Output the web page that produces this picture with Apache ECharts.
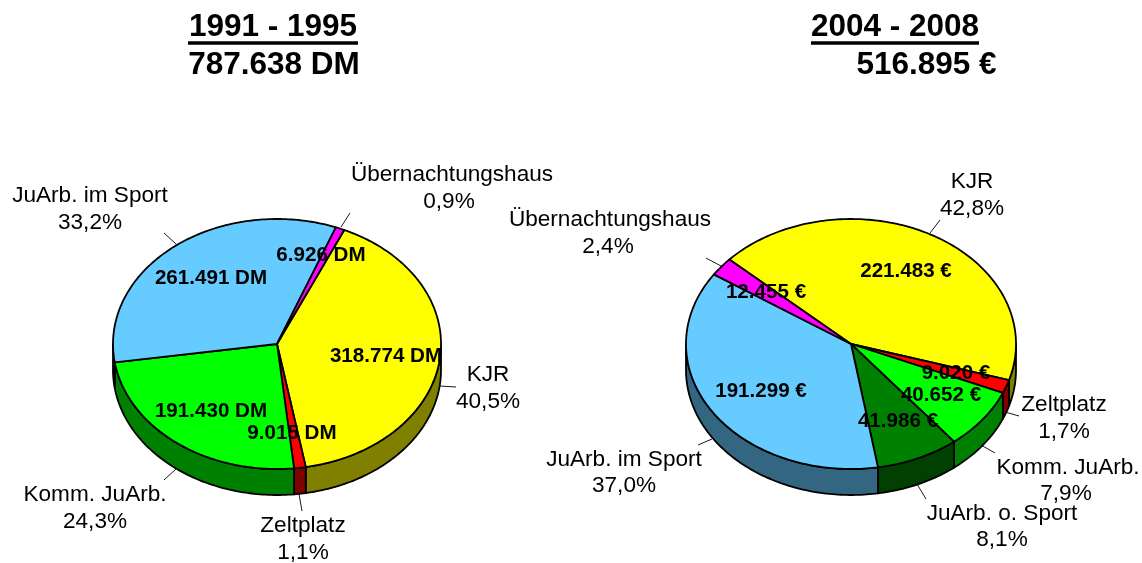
<!DOCTYPE html>
<html>
<head>
<meta charset="utf-8">
<style>html,body{margin:0;padding:0;background:#fff}#c{width:1142px;height:563px}</style>
<script src="https://cdn.jsdelivr.net/npm/echarts@6/dist/echarts.min.js"></script>
</head>
<body>
<div id="c"></div>
<script>
// ---- data ----
const namesA = ['KJR', 'Zeltplatz', 'Komm. JuArb.', 'JuArb. im Sport', 'Übernachtungshaus'];
const valuesA = [318774, 9015, 191430, 261491, 6926];
const percentA = ['40,5%', '1,1%', '24,3%', '33,2%', '0,9%'];
const unitA = 'DM';
const titleA = ['1991 - 1995', '787.638 DM'];

const namesB = ['KJR', 'Zeltplatz', 'Komm. JuArb.', 'JuArb. o. Sport', 'JuArb. im Sport', 'Übernachtungshaus'];
const valuesB = [221483, 9020, 40652, 41986, 191299, 12455];
const percentB = ['42,8%', '1,7%', '7,9%', '8,1%', '37,0%', '2,4%'];
const unitB = '€';
const titleB = ['2004 - 2008', '516.895 €'];

// ---- styles and layout ----
const topColorsA = ['#FFFF00', '#FF0000', '#00FF00', '#66CCFF', '#FF00FF'];
const sideColorsA = ['#808000', '#800000', '#008000', '#336680', '#800080'];
const topColorsB = ['#FFFF00', '#FF0000', '#00FF00', '#008000', '#66CCFF', '#FF00FF'];
const sideColorsB = ['#808000', '#800000', '#008000', '#004000', '#336680', '#800080'];

const pieA = { cx: 277, cy: 344, rx: 164, ry: 125, depth: 26, start: 24.2 };
const pieB = { cx: 851, cy: 344, rx: 165, ry: 125, depth: 26, start: 312.5 };

// [name x, name y, percent x, percent y]
const nameBoxA = [[488, 375, 488, 402], [303, 526, 303, 553], [95, 495, 95, 522], [90, 196, 90, 223], [452, 175, 449, 202]];
const nameBoxB = [[972, 182, 972, 209], [1064, 405, 1064, 432], [1068, 468, 1066, 494], [1002, 514, 1002, 540], [624, 460, 624, 486], [610, 220, 608, 247]];
const valueBoxA = [[386, 356], [292, 433], [211, 411], [211, 278], [321, 255]];
const valueBoxB = [[906, 271], [956, 373], [941, 395], [898, 421], [761, 391], [766, 292]];
// leader lines [x1, y1, x2, y2]
const leaderA = [[440, 386, 456, 387], [299, 494, 302, 511], [176, 469, 164, 480], [176, 244, 164, 233], [341, 227, 350, 213]];
const leaderB = [[930, 233, 940, 220], [1005, 412, 1019, 416], [981, 445, 995, 453], [917, 484, 926, 499], [712, 439, 698, 445], [721, 266, 706, 258]];

const fontFamily = '"Liberation Sans", Arial, sans-serif';
const stroke = '#000';
const edgeWidth = 1.8;

function sliceAngles(values, start) {
  const total = values.reduce((a, b) => a + b, 0);
  let acc = start;
  return values.map(v => { const a0 = acc; acc += v / total * 360; return [a0, acc]; });
}
function pt(p, deg, dy) {
  const r = deg * Math.PI / 180;
  return [p.cx + p.rx * Math.sin(r), p.cy - p.ry * Math.cos(r) + (dy || 0)];
}
function arc(p, a0, a1, dy) {
  const n = Math.max(2, Math.ceil(Math.abs(a1 - a0)));
  const out = [];
  for (let i = 0; i <= n; i++) out.push(pt(p, a0 + (a1 - a0) * i / n, dy));
  return out;
}
function sideSeries(name, values, colors, p) {
  const ang = sliceAngles(values, p.start);
  return {
    type: 'custom', name: name + ' side', coordinateSystem: 'none', silent: true, z: 2,
    data: values,
    renderItem(params) {
      const [a0, a1] = ang[params.dataIndex];
      const children = [];
      [0, 360].forEach(k => {
        const s = Math.max(a0, 90 + k), e = Math.min(a1, 270 + k);
        if (e > s) {
          const pts = arc(p, s, e, 0).concat(arc(p, e, s, p.depth));
          children.push({ type: 'polygon', shape: { points: pts },
            style: { fill: colors[params.dataIndex], stroke, lineWidth: edgeWidth, lineJoin: 'round' } });
        }
      });
      return { type: 'group', children };
    }
  };
}
function topSeries(name, values, colors, p) {
  const ang = sliceAngles(values, p.start);
  return {
    type: 'custom', name, coordinateSystem: 'none', silent: true, z: 3,
    data: values,
    renderItem(params) {
      const [a0, a1] = ang[params.dataIndex];
      const pts = [[p.cx, p.cy]].concat(arc(p, a0, a1, 0));
      return { type: 'polygon', shape: { points: pts },
        style: { fill: colors[params.dataIndex], stroke, lineWidth: edgeWidth, lineJoin: 'round' } };
    }
  };
}
function fmt(v, unit) {
  return String(v).replace(/\B(?=(\d{3})+$)/g, '.') + ' ' + unit;
}
function txt(text, x, y, size, bold, align) {
  return { type: 'text', silent: true, z: 10, x, y,
    style: { text, fontFamily, fontSize: size, fontWeight: bold ? 'bold' : 'normal', fill: '#000',
      align: align || 'center', verticalAlign: 'middle' } };
}
function labels(names, pct, values, unit, nameBox, valueBox, leader) {
  const out = [];
  names.forEach((n, i) => {
    const b = nameBox[i], l = leader[i], v = valueBox[i];
    out.push(txt(n, b[0], b[1], 22.6));
    out.push(txt(pct[i], b[2], b[3], 22.6));
    out.push(txt(fmt(values[i], unit), v[0], v[1], 20.6, true));
    out.push({ type: 'line', silent: true, z: 1, shape: { x1: l[0], y1: l[1], x2: l[2], y2: l[3] },
      style: { stroke: '#000', lineWidth: 0.9 } });
  });
  return out;
}

const chart = echarts.init(document.getElementById('c'), null, { renderer: 'canvas' });
chart.setOption({
  animation: false,
  backgroundColor: '#fff',
  series: [
    sideSeries('1991 - 1995', valuesA, sideColorsA, pieA),
    topSeries('1991 - 1995', valuesA, topColorsA, pieA),
    sideSeries('2004 - 2008', valuesB, sideColorsB, pieB),
    topSeries('2004 - 2008', valuesB, topColorsB, pieB)
  ],
  graphic: { elements: [
    txt(titleA[0], 273, 27, 31.5, true),
    { type: 'line', silent: true, z: 10, shape: { x1: 188, y1: 43, x2: 358, y2: 43 }, style: { stroke: '#000', lineWidth: 3.5 } },
    txt(titleA[1], 274, 65, 31.5, true),
    txt(titleB[0], 895, 27, 31.5, true),
    { type: 'line', silent: true, z: 10, shape: { x1: 811, y1: 43, x2: 979, y2: 43 }, style: { stroke: '#000', lineWidth: 3.5 } },
    txt(titleB[1], 926.5, 65, 31.5, true)
  ].concat(
    labels(namesA, percentA, valuesA, unitA, nameBoxA, valueBoxA, leaderA),
    labels(namesB, percentB, valuesB, unitB, nameBoxB, valueBoxB, leaderB)
  ) }
});
</script>
</body>
</html>
